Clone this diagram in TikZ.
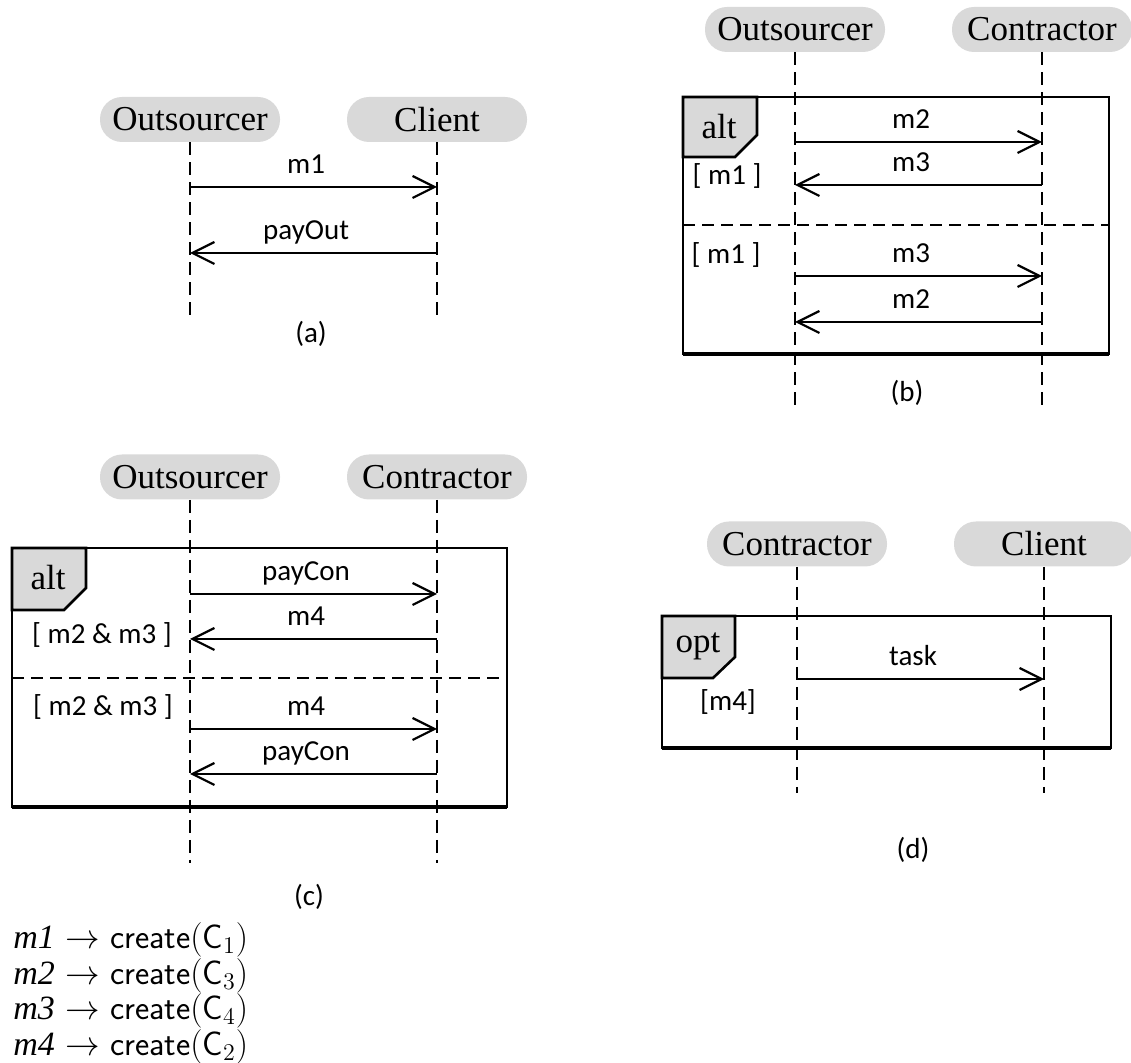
\documentclass[tikz,border=0pt]{standalone}
\usepackage{fontspec}
\newfontfamily\namefont{Liberation Serif}
\newfontfamily\labelfont{Carlito}
\usetikzlibrary{arrows.meta}
\definecolor{pillgray}{RGB}{217,217,217}
\tikzstyle{actor} = [rectangle, rounded corners=11pt, minimum width=90pt, minimum height=22.5pt, inner sep=0pt, fill=pillgray, font=\namefont\fontsize{17.5}{20}\selectfont]
\tikzstyle{lifeline} = [line width=0.85pt, dash pattern=on 6.5pt off 3.5pt]
\tikzstyle{msg} = [line width=1.1pt, -{Straight Barb[length=11pt,width=11pt]}]
\tikzstyle{rmsg} = [line width=1.1pt, {Straight Barb[length=11pt,width=11pt]}-]
\tikzstyle{lbl} = [font=\labelfont\fontsize{14.5}{17}\selectfont]
\tikzstyle{msglbl} = [lbl, pos=0.47, anchor=base, yshift=6.5pt]
\tikzstyle{frame} = [line width=1.3pt]
\tikzstyle{framebottom} = [line width=2.2pt]
\tikzstyle{tab} = [line width=1.3pt, fill=pillgray]
\tikzstyle{tabtext} = [font=\namefont\fontsize{17.5}{20}\selectfont]
\tikzstyle{divider} = [line width=0.85pt, dash pattern=on 6pt off 3.5pt]
\tikzstyle{legend} = [anchor=west, inner sep=0pt, font=\fontsize{17}{20}\selectfont]
\newcommand{\msgname}[1]{{\namefont\itshape #1}}

\begin{document}
\begin{tikzpicture}[x=0.5pt, y=-0.5pt, node distance=123.5pt]
\useasboundingbox (0,0) rectangle (1131,1063);

% (a)
\node (outA) [actor] at (190,119.5) {Outsourcer};
\node (cliA) [actor, right of=outA] {Client};
\coordinate (outAend) at (outA |- 0,320);
\coordinate (cliAend) at (cliA |- 0,320);
\draw [lifeline] (outA) -- (outAend);
\draw [lifeline] (cliA) -- (cliAend);
\draw [msg] (outA |- 0,187) -- (cliA |- 0,187) node[msglbl] {m1};
\draw [rmsg] (outA |- 0,253) -- (cliA |- 0,253) node[msglbl] {payOut};
\node (capA) [lbl] at (311,334) {(a)};

% (b)
\node (outB) [actor] at (795,29.5) {Outsourcer};
\node (conB) [actor, right of=outB] {Contractor};
\coordinate (outBend) at (outB |- 0,411);
\coordinate (conBend) at (conB |- 0,411);
\draw [frame] (683,97) rectangle (1109,354);
\draw [framebottom] (683,354) -- (1109,354);
\draw [tab] (683,97) -- (757,97) -- (757,135) -- (735,157) -- (683,157) -- cycle;
\node (altB) [tabtext] at (719,127) {alt};
\draw [divider] (683,225) -- (1109,225);
\draw [lifeline] (outB) -- (outBend);
\draw [lifeline] (conB) -- (conBend);
\node (grdB1) [lbl] at (727,176) {[ m1 ]};
\node (grdB2) [lbl] at (726,255) {[ m1 ]};
\draw [msg] (outB |- 0,142) -- (conB |- 0,142) node[msglbl] {m2};
\draw [rmsg] (outB |- 0,185) -- (conB |- 0,185) node[msglbl] {m3};
\draw [msg] (outB |- 0,276) -- (conB |- 0,276) node[msglbl] {m3};
\draw [rmsg] (outB |- 0,322) -- (conB |- 0,322) node[msglbl] {m2};
\node (capB) [lbl] at (907,393) {(b)};

% (c)
\node (outC) [actor] at (190,477) {Outsourcer};
\node (conC) [actor, right of=outC] {Contractor};
\coordinate (outCend) at (outC |- 0,863);
\coordinate (conCend) at (conC |- 0,863);
\draw [frame] (12,548) rectangle (507,807);
\draw [framebottom] (12,807) -- (507,807);
\draw [tab] (12,548) -- (86,548) -- (86,588) -- (64,610) -- (12,610) -- cycle;
\node (altC) [tabtext] at (48,578) {alt};
\draw [divider] (12,678) -- (507,678);
\draw [lifeline] (outC) -- (outCend);
\draw [lifeline] (conC) -- (conCend);
\node (grdC1) [lbl] at (102,635) {[ m2 \& m3 ]};
\node (grdC2) [lbl] at (103,707) {[ m2 \& m3 ]};
\draw [msg] (outC |- 0,594) -- (conC |- 0,594) node[msglbl] {payCon};
\draw [rmsg] (outC |- 0,639) -- (conC |- 0,639) node[msglbl] {m4};
\draw [msg] (outC |- 0,729) -- (conC |- 0,729) node[msglbl] {m4};
\draw [rmsg] (outC |- 0,774) -- (conC |- 0,774) node[msglbl] {payCon};
\node (capC) [lbl] at (309,897) {(c)};

% (d)
\node (conD) [actor] at (797,544) {Contractor};
\node (cliD) [actor, right of=conD] {Client};
\coordinate (conDend) at (conD |- 0,793);
\coordinate (cliDend) at (cliD |- 0,793);
\draw [frame] (662,616) rectangle (1111,748);
\draw [framebottom] (662,748) -- (1111,748);
\draw [tab] (662,616) -- (735,616) -- (735,657) -- (713,678) -- (662,678) -- cycle;
\node (optD) [tabtext] at (698,646) {opt};
\draw [lifeline] (conD) -- (conDend);
\draw [lifeline] (cliD) -- (cliDend);
\node (grdD) [lbl] at (728,702) {[m4]};
\draw [msg] (conD |- 0,679) -- (cliD |- 0,679) node[msglbl] {task};
\node (capD) [lbl] at (913,850) {(d)};

% message to contract mapping
\node (leg1) [legend] at (13,940) {\msgname{m1} $\rightarrow$ \textsf{create}$(\textsf{C}_1)$};
\node (leg2) [legend] at (13,975.5) {\msgname{m2} $\rightarrow$ \textsf{create}$(\textsf{C}_3)$};
\node (leg3) [legend] at (13,1011) {\msgname{m3} $\rightarrow$ \textsf{create}$(\textsf{C}_4)$};
\node (leg4) [legend] at (13,1046.5) {\msgname{m4} $\rightarrow$ \textsf{create}$(\textsf{C}_2)$};

\end{tikzpicture}
\end{document}
